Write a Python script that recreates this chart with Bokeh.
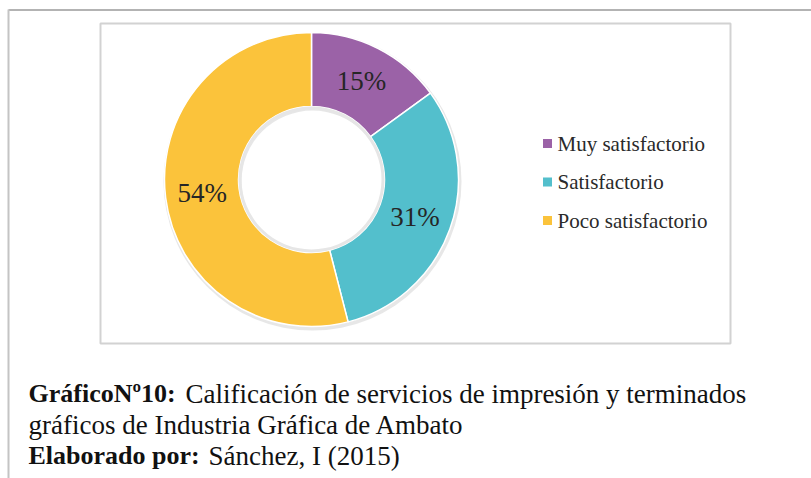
import math
from bokeh.plotting import figure
from bokeh.models import Range1d, ColumnDataSource
from bokeh.core.properties import value
from bokeh.embed import file_html
from bokeh.resources import INLINE

# ---- data ----
categories = ["Muy satisfactorio", "Satisfactorio", "Poco satisfactorio"]
percentages = [15, 31, 54]
colors = ["#9B62A7", "#53BFCC", "#FBC33B"]
caption_bold = ["GráficoNº10:", "", "Elaborado por:"]
caption_rest = ["Calificación de servicios de impresión y terminados",
                "gráficos de Industria Gráfica de Ambato",
                "Sánchez, I (2015)"]

W, H = 811, 478
def py(y):  # page y -> data y
    return H - y

p = figure(width=W, height=H, x_range=Range1d(0, W), y_range=Range1d(0, H),
           output_backend="svg", toolbar_location=None, min_border=0,
           background_fill_color="white", border_fill_color="white")
p.axis.visible = False
p.grid.visible = False
p.outline_line_color = None

SERIF = value("Liberation Serif")

# frame lines
p.segment(x0=[8], y0=[py(9.5)], x1=[811], y1=[py(9.5)], line_color="#9a9a9a", line_width=1.5)
p.segment(x0=[8], y0=[py(9)], x1=[8], y1=[py(478)], line_color="#c4c4c4", line_width=2)
# chart box
p.quad(left=[100], right=[730], top=[py(23)], bottom=[py(343)], fill_color="white",
       line_color="#d2d2d2", line_width=2)

# donut
cx, cy = 311, py(179)
r_in, r_out = 73, 147
total = sum(percentages)
starts, ends, mids = [], [], []
a = math.pi / 2
for v in percentages:
    span = 2 * math.pi * v / total
    ends.append(a)
    starts.append(a - span)
    mids.append(a - span / 2)
    a -= span

# shadow
p.annular_wedge(x=[cx + 1], y=[cy - 2], inner_radius=r_in - 2, outer_radius=r_out + 2,
                start_angle=0, end_angle=2 * math.pi, fill_color="#cfcfcf", fill_alpha=0.5,
                line_color=None, inner_radius_units="screen", outer_radius_units="screen")
src = ColumnDataSource(dict(start=starts, end=ends, color=colors))
p.annular_wedge(x=cx, y=cy, inner_radius=r_in, outer_radius=r_out, start_angle="start",
                end_angle="end", fill_color="color", line_color="white", line_width=1.5,
                inner_radius_units="screen", outer_radius_units="screen", source=src)
# inner hole shading
p.annulus(x=[cx], y=[cy], inner_radius=r_in - 3, outer_radius=r_in, fill_color="#e6e6e6",
          line_color=None, inner_radius_units="screen", outer_radius_units="screen")

# labels
r_lab = 110
lx = [cx + r_lab * math.cos(m) for m in mids]
ly = [cy + r_lab * math.sin(m) for m in mids]
p.text(x=lx, y=ly, text=[f"{v}%" for v in percentages], text_font=SERIF,
       text_font_size="27px", text_color="#262626", text_align="center",
       text_baseline="middle")

# legend
leg_x, leg_y0, leg_dy = 547, 143, 38.5
leg_y = [py(leg_y0 + i * leg_dy) for i in range(len(categories))]
p.scatter(x=[leg_x] * len(categories), y=leg_y, marker="square", size=9, fill_color=colors,
          line_color=None)
p.text(x=[leg_x + 10] * len(categories), y=leg_y, text=categories, text_font=SERIF,
       text_font_size="21px", text_color="#2a2a2a", text_baseline="middle")

# caption
cap_y = [py(393), py(424), py(455)]
p.text(x=[28] * 3, y=cap_y, text=caption_bold, text_font=SERIF, text_font_style="bold",
       text_font_size="26px", text_color="#111111", text_baseline="alphabetic")
p.text(x=[185, 28, 208], y=cap_y, text=caption_rest, text_font=SERIF,
       text_font_size="27px", text_color="#111111", text_baseline="alphabetic")

open("out.html", "w").write(file_html(p, INLINE))
